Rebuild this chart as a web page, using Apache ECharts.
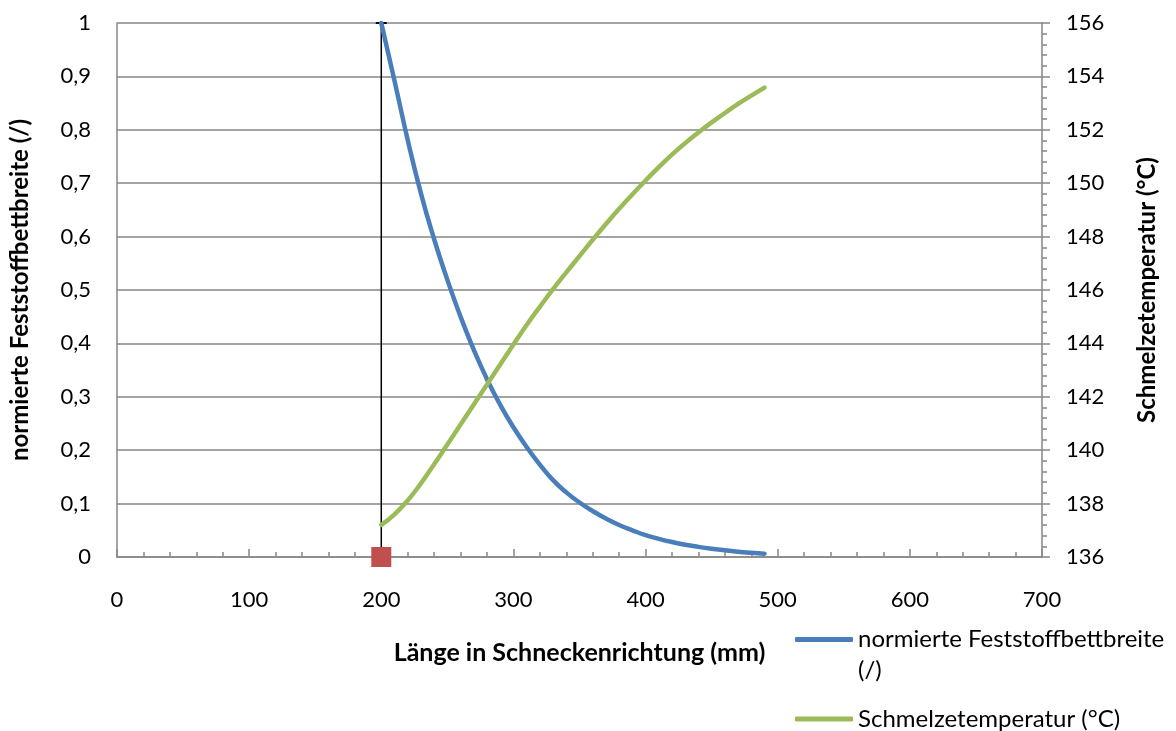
<!DOCTYPE html>
<html>
<head>
<meta charset="utf-8">
<script src="https://cdn.jsdelivr.net/npm/echarts@6/dist/echarts.min.js"></script>
<style>
  html, body { margin: 0; padding: 0; background: #fff; }
  #main { width: 1176px; height: 731px; }
</style>
</head>
<body>
<div id="main"></div>
<script>
// Länge in Schneckenrichtung (mm)
var laenge = [200, 210, 220, 230, 240, 250, 260, 270, 280, 290, 300, 310, 320, 330, 340,
    350, 360, 370, 380, 390, 400, 410, 420, 430, 440, 450, 460, 470, 480, 490];
// normierte Feststoffbettbreite (/)
var breite = [1.0, 0.892, 0.781, 0.681, 0.595, 0.519, 0.450, 0.388, 0.333, 0.285, 0.243,
    0.206, 0.173, 0.144, 0.121, 0.102, 0.086, 0.072, 0.060, 0.050, 0.041, 0.034, 0.028,
    0.023, 0.019, 0.0155, 0.0125, 0.010, 0.008, 0.0062];
// Schmelzetemperatur (°C)
var temperatur = [137.2, 137.6, 138.12, 138.76, 139.47, 140.21, 140.96, 141.71, 142.46,
    143.21, 143.96, 144.69, 145.37, 146.03, 146.66, 147.27, 147.88, 148.47, 149.04, 149.58,
    150.1, 150.6, 151.07, 151.5, 151.9, 152.28, 152.63, 152.97, 153.28, 153.58];
// Beginn des Aufschmelzens (senkrechte Linie)
var startX = 200;
var startY = [0, 1];

var nameBreite = 'normierte Feststoffbettbreite (/)';
var nameTemp = 'Schmelzetemperatur (°C)';

function pairs(xs, ys) {
    return xs.map(function (x, i) { return [x, ys[i]]; });
}

var chart = echarts.init(document.getElementById('main'));
var font = 'Lato';
var grau = '#868686';

option = {
    animation: false,
    textStyle: { fontFamily: font },
    grid: { left: 116, right: 134, top: 23, bottom: 174 },
    legend: [{
        orient: 'vertical',
        left: 790,
        top: 633 - 45,
        itemWidth: 58,
        itemHeight: 5,
        icon: 'roundRect',
        data: [nameBreite],
        // leere erste Zeile, damit die Linie auf Höhe der ersten Textzeile liegt
        formatter: function () { return ' \nnormierte Feststoffbettbreite\n(/)'; },
        textStyle: { fontSize: 24, color: '#000', lineHeight: 31, fontFamily: font }
    }, {
        orient: 'vertical',
        left: 790,
        top: 699,
        itemWidth: 58,
        itemHeight: 5,
        icon: 'roundRect',
        data: [nameTemp],
        textStyle: { fontSize: 24, color: '#000', lineHeight: 30, fontFamily: font }
    }],
    xAxis: {
        type: 'value',
        min: 0,
        max: 700,
        interval: 100,
        name: 'Länge in Schneckenrichtung (mm)',
        nameLocation: 'middle',
        nameGap: 83,
        nameTextStyle: { fontSize: 25, fontWeight: 'bold', color: '#000', fontFamily: font },
        axisLine: { lineStyle: { color: grau, width: 1.5 } },
        axisTick: { show: true, inside: true, length: 8, lineStyle: { color: grau, width: 1.5 } },
        minorTick: { show: true, splitNumber: 5, length: 5, lineStyle: { color: grau, width: 1.5 } },
        axisLabel: { fontSize: 22, color: '#000', margin: 32, fontFamily: font },
        splitLine: { show: false }
    },
    yAxis: [{
        type: 'value',
        min: 0,
        max: 1,
        interval: 0.1,
        name: nameBreite,
        nameLocation: 'middle',
        nameGap: 85,
        nameRotate: 90,
        nameTextStyle: { fontSize: 24, fontWeight: 'bold', color: '#000', fontFamily: font },
        axisLine: { show: true, lineStyle: { color: grau, width: 1.5 } },
        axisTick: { show: false },
        axisLabel: {
            fontSize: 22, color: '#000', margin: 26, fontFamily: font,
            formatter: function (v) { return String(Math.round(v * 10) / 10).replace('.', ','); }
        },
        splitLine: { show: true, lineStyle: { color: grau, width: 1.5 } }
    }, {
        type: 'value',
        min: 136,
        max: 156,
        interval: 2,
        name: nameTemp,
        nameLocation: 'middle',
        nameGap: 93,
        nameRotate: 90,
        nameTextStyle: { fontSize: 24, fontWeight: 'bold', color: '#000', fontFamily: font },
        axisLine: { show: true, lineStyle: { color: grau, width: 1.5 } },
        axisTick: { show: true, length: 8, lineStyle: { color: grau, width: 1.5 } },
        minorTick: { show: true, splitNumber: 5, length: 5, lineStyle: { color: grau, width: 1.5 } },
        axisLabel: { fontSize: 22, color: '#000', margin: 24, fontFamily: font },
        splitLine: { show: false }
    }],
    series: [{
        name: 'start',
        type: 'line',
        yAxisIndex: 0,
        data: [
            { value: [startX, startY[0]], symbol: 'none' },
            { value: [startX, startY[1]], symbol: 'rect', symbolSize: [11, 2] }
        ],
        lineStyle: { color: '#000', width: 1.5 },
        itemStyle: { color: '#000' },
        symbol: 'none',
        z: 1
    }, {
        name: 'marker',
        type: 'scatter',
        yAxisIndex: 0,
        data: [[startX, startY[0]]],
        symbol: 'rect',
        symbolSize: 20,
        itemStyle: { color: '#C0504D', opacity: 1 },
        z: 5
    }, {
        name: nameBreite,
        type: 'line',
        yAxisIndex: 0,
        data: pairs(laenge, breite),
        smooth: true,
        symbol: 'none',
        lineStyle: { color: '#4A7EBB', width: 4.5, cap: 'round' },
        itemStyle: { color: '#4A7EBB' },
        z: 3
    }, {
        name: nameTemp,
        type: 'line',
        yAxisIndex: 1,
        data: pairs(laenge, temperatur),
        smooth: true,
        symbol: 'none',
        lineStyle: { color: '#9BBB59', width: 4.5, cap: 'round' },
        itemStyle: { color: '#9BBB59' },
        z: 3
    }]
};
chart.setOption(option);
</script>
</body>
</html>
